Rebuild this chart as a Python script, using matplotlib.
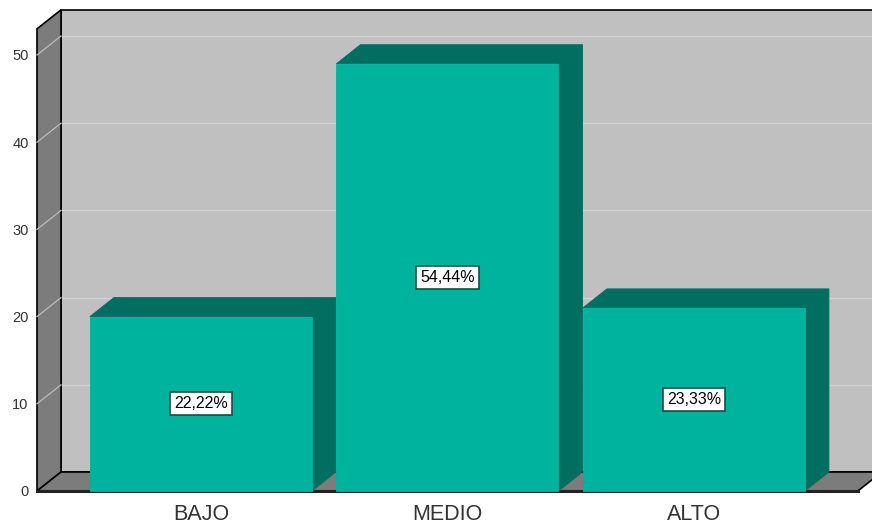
import matplotlib
matplotlib.use("Agg")
import matplotlib.pyplot as plt
from matplotlib.patches import Polygon, Rectangle

plt.rcParams['font.family'] = ['Liberation Sans', 'DejaVu Sans']

# Data
categories = ["BAJO", "MEDIO", "ALTO"]
counts = [20, 49, 21]
percent_labels = ["22,22%", "54,44%", "23,33%"]
y_ticks = [0, 10, 20, 30, 40, 50]

# Styling
FRONT = "#00b39e"
DARK = "#006e60"
BACK_WALL = "#c0c0c0"
SIDE_WALL = "#7c7c7c"
GRID_BACK = "#d2d2d2"
GRID_SIDE = "#bdbdbd"

W, H = 872, 524
fig = plt.figure(figsize=(W / 100, H / 100), dpi=100)

# Plot frame in pixels: front plane from x=37, zero at y=491
px_left, px_right, px_bottom, px_top = 37, 872, 491, 11
ax = fig.add_axes([px_left / W, (H - px_bottom) / H,
                   (px_right - px_left) / W, (px_bottom - px_top) / H])

spacing_px = 246.5          # pixels per category
unit_px = 8.72              # pixels per count unit
x0, x1 = -0.665, 2.665      # front plane extent (category units)
ytop = 53.0                 # top of walls
dx = 24 / spacing_px        # depth offset in x
dy = 19 / unit_px           # depth offset in y
bar_w = 222 / spacing_px

ax.set_xlim(x0, x0 + (px_right - px_left) / spacing_px)
ax.set_ylim(0, (px_bottom - px_top) / unit_px)
for s in ax.spines.values():
    s.set_visible(False)
ax.patch.set_visible(False)

# Back wall
ax.add_patch(Rectangle((x0 + dx, dy), (x1 - x0), ytop, facecolor=BACK_WALL,
                       edgecolor="black", lw=1.2, clip_on=False, zorder=1))
for v in y_ticks[1:]:
    ax.plot([x0 + dx, x1 + dx], [v + dy, v + dy], color=GRID_BACK, lw=1.0,
            clip_on=False, zorder=1.5)

# Left wall
ax.add_patch(Polygon([(x0, 0), (x0 + dx, dy), (x0 + dx, ytop + dy), (x0, ytop)],
                     closed=True, facecolor=SIDE_WALL, edgecolor="black", lw=1.2,
                     clip_on=False, zorder=2))
for v in y_ticks[1:]:
    ax.plot([x0, x0 + dx], [v, v + dy], color=GRID_SIDE, lw=0.9,
            clip_on=False, zorder=2.5)

# Floor
ax.add_patch(Polygon([(x0, 0), (x1, 0), (x1 + dx, dy), (x0 + dx, dy)],
                     closed=True, facecolor=SIDE_WALL, edgecolor="black", lw=1.2,
                     clip_on=False, zorder=2))
ax.plot([x0, x1], [0, 0], color="#222222", lw=2.2, clip_on=False, zorder=2.6)

# Bars
for i, (c, lab) in enumerate(zip(counts, percent_labels)):
    left = i - bar_w / 2
    right = i + bar_w / 2
    z = 3 + i * 0.1
    ax.add_patch(Polygon([(left, c), (right, c), (right + dx, c + dy), (left + dx, c + dy)],
                         closed=True, facecolor=DARK, edgecolor=DARK, lw=0.6,
                         clip_on=False, zorder=z))
    ax.add_patch(Polygon([(right, 0), (right + dx, dy), (right + dx, c + dy), (right, c)],
                         closed=True, facecolor=DARK, edgecolor=DARK, lw=0.6,
                         clip_on=False, zorder=z))
    ax.add_patch(Rectangle((left, 0), bar_w, c, facecolor=FRONT, edgecolor=FRONT,
                           lw=0.6, clip_on=False, zorder=z + 0.05))
    ax.text(i, c / 2, lab, ha="center", va="center", fontsize=11.5, color="black",
            zorder=5, bbox=dict(boxstyle="square,pad=0.25", facecolor="white",
                                edgecolor="#1d4a42", lw=1.2))

# Axis labels
ax.set_yticks(y_ticks)
ax.set_yticklabels([str(v) for v in y_ticks], fontsize=10.5, color="#333333")
ax.set_xticks(range(len(categories)))
ax.set_xticklabels(categories, fontsize=15.5, color="#333333")
ax.tick_params(axis="y", length=0, pad=6)
ax.tick_params(axis="x", length=0, pad=9)

fig.savefig("out.png", dpi=100, facecolor="white")
